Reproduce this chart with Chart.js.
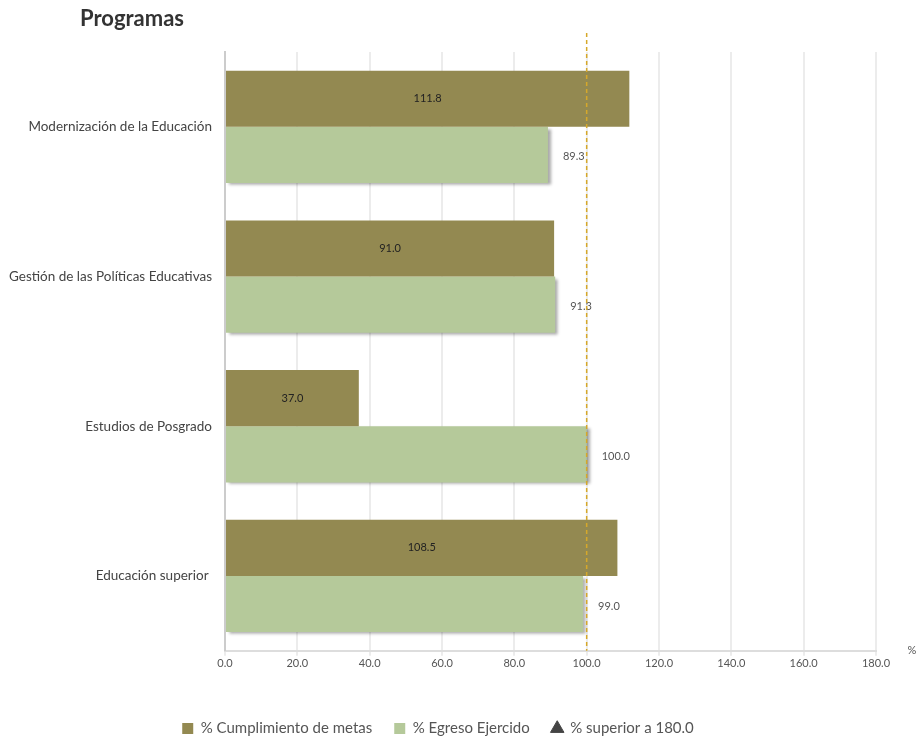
<!DOCTYPE html>
<html>
<head>
<meta charset="utf-8">
<script src="https://cdn.jsdelivr.net/npm/chart.js@4.4.1/dist/chart.umd.min.js"></script>
<style>
  body { margin: 0; background: #fff; }
  #wrap { position: relative; width: 918px; height: 738px; }
  #title { position: absolute; left: 80px; top: 4px; font: bold 22px Lato, sans-serif; color: #333; }
</style>
</head>
<body>
<div id="wrap">
  <div id="title">Programas</div>
  <canvas id="chart" width="918" height="738"></canvas>
</div>
<script>
const programas = ["Modernización de la Educación", "Gestión de las Políticas Educativas", "Estudios de Posgrado", "Educación superior "];
const cumplimientoMetas = [111.8, 91.0, 37.0, 108.5];
const egresoEjercido = [89.3, 91.3, 100.0, 99.0];
const superior180 = [];
const lineaMeta = 100;
const ejeMax = 180;

// sombra de las barras claras
const sombraPlugin = {
  id: 'sombra',
  beforeDatasetDraw(chart, args) {
    if (args.index !== 1) return;
    const ctx = chart.ctx;
    ctx.save();
    ctx.shadowColor = 'rgba(0,0,0,0.35)';
    ctx.shadowOffsetX = 3;
    ctx.shadowOffsetY = 2;
    ctx.shadowBlur = 3;
  },
  afterDatasetDraw(chart, args) {
    if (args.index !== 1) return;
    chart.ctx.restore();
  }
};

// etiquetas, linea de 100 y simbolo %
const extrasPlugin = {
  id: 'extras',
  afterDatasetsDraw(chart) {
    const ctx = chart.ctx;
    const x = chart.scales.x;
    const area = chart.chartArea;
    ctx.save();
    ctx.font = '11px Lato, sans-serif';
    ctx.textBaseline = 'middle';

    chart.getDatasetMeta(0).data.forEach((bar, i) => {
      ctx.fillStyle = '#222';
      ctx.textAlign = 'center';
      ctx.fillText(cumplimientoMetas[i].toFixed(1), (bar.x + bar.base) / 2, bar.y);
    });
    chart.getDatasetMeta(1).data.forEach((bar, i) => {
      ctx.fillStyle = '#555';
      ctx.textAlign = 'left';
      ctx.fillText(egresoEjercido[i].toFixed(1), bar.x + 15, bar.y + 2);
    });

    const px = x.getPixelForValue(lineaMeta);
    ctx.strokeStyle = '#d6a82a';
    ctx.lineWidth = 1.5;
    ctx.setLineDash([4, 3]);
    ctx.beginPath();
    ctx.moveTo(px, area.top - 19);
    ctx.lineTo(px, area.bottom);
    ctx.stroke();

    ctx.setLineDash([]);
    ctx.fillStyle = '#555';
    ctx.textAlign = 'center';
    ctx.fillText('%', 912, area.bottom);
    ctx.restore();
  }
};

new Chart(document.getElementById('chart'), {
  type: 'bar',
  data: {
    labels: programas,
    datasets: [
      {
        label: '% Cumplimiento de metas',
        data: cumplimientoMetas,
        backgroundColor: '#938951',
        pointStyle: 'rect',
        categoryPercentage: 0.75,
        barPercentage: 1.0
      },
      {
        label: '% Egreso Ejercido',
        data: egresoEjercido,
        backgroundColor: '#b5c99a',
        pointStyle: 'rect',
        categoryPercentage: 0.75,
        barPercentage: 1.0
      },
      {
        type: 'line',
        label: '% superior a 180.0',
        data: superior180,
        backgroundColor: '#444',
        borderColor: '#444',
        pointStyle: 'triangle'
      }
    ]
  },
  options: {
    indexAxis: 'y',
    responsive: false,
    animation: false,
    layout: { padding: { top: 52, right: 42, bottom: -8, left: 0 } },
    scales: {
      x: {
        min: 0,
        max: ejeMax,
        afterFit(scale) { scale.height += 28; },
        ticks: {
          stepSize: 20,
          padding: 1,
          color: '#555',
          font: { family: 'Lato', size: 11 },
          callback: v => Number(v).toFixed(1)
        },
        grid: { color: '#ececec', lineWidth: 2, tickLength: 5 },
        border: { color: '#ddd', width: 2 }
      },
      y: {
        afterFit(scale) { scale.width = 225; },
        ticks: {
          color: '#444',
          font: { family: 'Lato', size: 13.5 },
          padding: 5
        },
        grid: { display: false },
        border: { color: '#ccc', width: 2 }
      }
    },
    plugins: {
      legend: {
        position: 'bottom',
        labels: {
          usePointStyle: true,
          boxWidth: 11,
          boxHeight: 11,
          padding: 22,
          color: '#555',
          font: { family: 'Lato', size: 15 }
        }
      },
      tooltip: { enabled: false }
    }
  },
  plugins: [sombraPlugin, extrasPlugin]
});
</script>
</body>
</html>
